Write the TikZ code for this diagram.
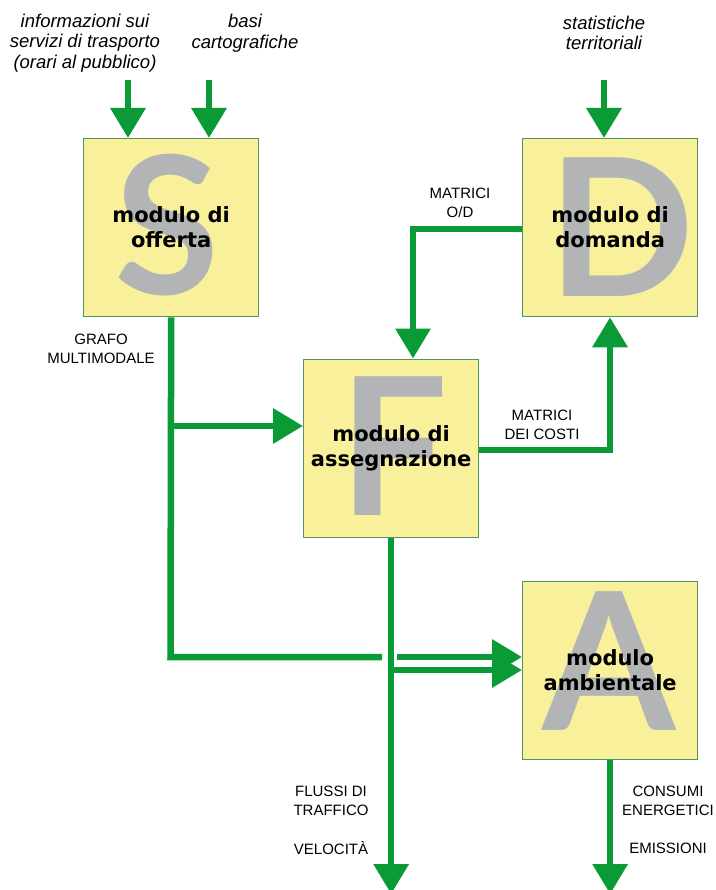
\documentclass[tikz,border=0pt]{standalone}
\usepackage{fontspec}
\setmainfont{Liberation Sans}
\newfontfamily\boxfont{DejaVu Sans}
\newfontfamily\bigfont{Lato}
\usetikzlibrary{arrows.meta}
\definecolor{arrgreen}{RGB}{10,155,55}
\definecolor{boxfill}{RGB}{248,240,154}
\definecolor{boxborder}{RGB}{80,150,90}
\definecolor{letgray}{RGB}{179,180,181}
\begin{document}
\begin{tikzpicture}[x=1pt,y=-1pt,
  modbox/.style={draw=boxborder,line width=1.3pt,fill=boxfill,minimum width=175pt,minimum height=178pt,inner sep=0pt,anchor=north west},
  bigletter/.style={text=letgray,font=\bigfont\bfseries\fontsize{192}{192}\selectfont,anchor=base,inner sep=0pt},
  modlabel/.style={align=center,font=\boxfont\bfseries\fontsize{21}{25}\selectfont,inner sep=0pt},
  itl/.style={align=center,font=\itshape\fontsize{18.5}{20.5}\selectfont,inner sep=0pt},
  sm/.style={align=center,font=\fontsize{15}{18.5}\selectfont,inner sep=0pt},
  gline/.style={draw=arrgreen,line width=6.5pt},
  garrow/.style={gline,-{Triangle[width=34pt,length=30pt]}}]
\useasboundingbox (0,0) rectangle (715,890);

% boxes
\node[modbox] (S) at (83,138) {};
\node[modbox] (D) at (522,138) {};
\node[modbox] (F) at (303,358.5) {};
\node[modbox] (A) at (522,580.5) {};

% big letters
\node[bigletter] (Sl) at (167,294) {S};
\node[bigletter] (Dl) at (621,296) {D};
\node[bigletter] (Fl) at (394,515) {F};
\node[bigletter] (Al) at (609.5,730) {A};

% box labels
\node[modlabel] (St) at (S.center) {modulo di\\offerta};
\node[modlabel] (Dt) at (D.center) {modulo di\\domanda};
\node[modlabel] (Ft) at (F.center) {modulo di\\assegnazione};
\node[modlabel] (At) at (A.center) {modulo\\ambientale};

% input texts
\node[itl] (in1) at (85,43) {informazioni sui\\servizi di trasporto\\(orari al pubblico)};
\node[itl] (in2) at (245,33) {basi\\cartografiche};
\node[itl] (in3) at (604,33) {statistiche\\territoriali};

% small labels
\node[sm] (l1) at (101,349) {GRAFO\\MULTIMODALE};
\node[sm] (l2) at (460,203) {MATRICI\\O/D};
\node[sm] (l3) at (542,425) {MATRICI\\DEI COSTI};
\node[sm] (l4) at (331,801) {FLUSSI DI\\TRAFFICO};
\node[sm] (l5) at (331,848) {VELOCITÀ};
\node[sm] (l6) at (668,801) {CONSUMI\\ENERGETICI};
\node[sm] (l7) at (668,848) {EMISSIONI};

% coordinates
\coordinate (i1) at (128,80);
\coordinate (i2) at (209,80);
\coordinate (i3) at (604,80);
\coordinate (c1) at (170.5,657);
\coordinate (gapL) at (382,657);
\coordinate (gapR) at (397,657);
\coordinate (b1) at (170.5,426);
\coordinate (b2) at (390.5,670);
\coordinate (bot) at (0,894);
\coordinate (c2) at (413,229);
\coordinate (c3) at (610,450);

% input arrows
\draw[garrow] (i1) -- (i1 |- S.north);
\draw[garrow] (i2) -- (i2 |- S.north);
\draw[garrow] (i3) -- (i3 |- D.north);

% S output
\draw[gline] (S.south) -- (c1) -- (gapL);
\draw[garrow] (gapR) -- (gapR -| A.west);
\draw[garrow] (b1) -- (b1 -| F.west);

% F output
\draw[garrow] (F.south) -- (F.south |- bot);
\draw[garrow] (b2) -- (b2 -| A.west);

% A output
\draw[garrow] (A.south) -- (A.south |- bot);

% D -> F
\draw[garrow] (c2 -| D.west) -- (c2) -- (c2 |- F.north);
% F -> D
\draw[garrow] (c3 -| F.east) -- (c3) -- (c3 |- D.south);
\end{tikzpicture}
\end{document}
